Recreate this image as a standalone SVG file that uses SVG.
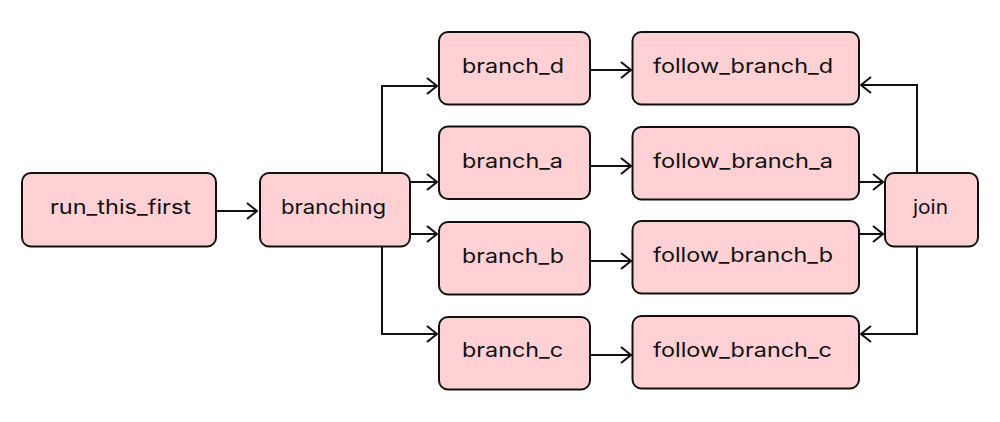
<svg xmlns="http://www.w3.org/2000/svg" width="1000" height="422" viewBox="0 0 1000 422">
<style>
.node rect{fill:#FFD1D4;stroke:#111;stroke-width:2}
.node text{font-family:Inter,"Noto Sans","Liberation Sans",sans-serif;font-size:20px;fill:#111}
.edge{fill:none;stroke:#111;stroke-width:2}
</style>
<defs>
<marker id="arr" viewBox="0 0 12 18" refX="11" refY="9" markerWidth="12" markerHeight="18" markerUnits="userSpaceOnUse" orient="auto">
<path d="M1,1 L11,9 L1,17" fill="none" stroke="#111" stroke-width="2"/>
</marker>
</defs>
<rect width="1000" height="422" fill="#fff"/>
<g id="connectors">
<path class="edge" d="M216,211 H257" marker-end="url(#arr)"/>
<path class="edge" d="M382,173 V86 H437" marker-end="url(#arr)"/>
<path class="edge" d="M410,182 H437" marker-end="url(#arr)"/>
<path class="edge" d="M410,234 H437" marker-end="url(#arr)"/>
<path class="edge" d="M382,247 V334 H437" marker-end="url(#arr)"/>
<path class="edge" d="M590,70 H631" marker-end="url(#arr)"/>
<path class="edge" d="M590,166 H631" marker-end="url(#arr)"/>
<path class="edge" d="M590,261 H631" marker-end="url(#arr)"/>
<path class="edge" d="M590,355 H631" marker-end="url(#arr)"/>
<path class="edge" d="M917,173 V85 H861" marker-end="url(#arr)"/>
<path class="edge" d="M859,182 H883" marker-end="url(#arr)"/>
<path class="edge" d="M859,234 H883" marker-end="url(#arr)"/>
<path class="edge" d="M917,246 V334 H861" marker-end="url(#arr)"/>
</g>
<g id="run_this_first" class="node"><rect x="22" y="173" width="194" height="73.5" rx="9"/><text x="50" y="213.5" textLength="141" lengthAdjust="spacingAndGlyphs">run_this_first</text></g>
<g id="branching" class="node"><rect x="260" y="173" width="150" height="73.5" rx="9"/><text x="281" y="213.5" textLength="105" lengthAdjust="spacingAndGlyphs">branching</text></g>
<g id="branch_d" class="node"><rect x="439" y="32" width="151" height="72.5" rx="9"/><text x="462" y="73" textLength="102" lengthAdjust="spacingAndGlyphs">branch_d</text></g>
<g id="branch_a" class="node"><rect x="439" y="126.5" width="151" height="72.5" rx="9"/><text x="462" y="167.5" textLength="101" lengthAdjust="spacingAndGlyphs">branch_a</text></g>
<g id="branch_b" class="node"><rect x="439" y="222" width="151" height="72.5" rx="9"/><text x="462" y="263" textLength="102" lengthAdjust="spacingAndGlyphs">branch_b</text></g>
<g id="branch_c" class="node"><rect x="439" y="317" width="151" height="72.5" rx="9"/><text x="462" y="357" textLength="101" lengthAdjust="spacingAndGlyphs">branch_c</text></g>
<g id="follow_branch_d" class="node"><rect x="632.5" y="32" width="226.5" height="72.5" rx="9"/><text x="653" y="73" textLength="180" lengthAdjust="spacingAndGlyphs">follow_branch_d</text></g>
<g id="follow_branch_a" class="node"><rect x="632.5" y="127" width="226.5" height="72.5" rx="9"/><text x="653" y="167.5" textLength="180" lengthAdjust="spacingAndGlyphs">follow_branch_a</text></g>
<g id="follow_branch_b" class="node"><rect x="632.5" y="221" width="226.5" height="72.5" rx="9"/><text x="653" y="262" textLength="180" lengthAdjust="spacingAndGlyphs">follow_branch_b</text></g>
<g id="follow_branch_c" class="node"><rect x="632.5" y="316" width="226.5" height="72.5" rx="9"/><text x="653" y="356.5" textLength="179" lengthAdjust="spacingAndGlyphs">follow_branch_c</text></g>
<g id="join" class="node"><rect x="885" y="173" width="93" height="73.5" rx="9"/><text x="913" y="213.5" textLength="35" lengthAdjust="spacingAndGlyphs">join</text></g>
</svg>
